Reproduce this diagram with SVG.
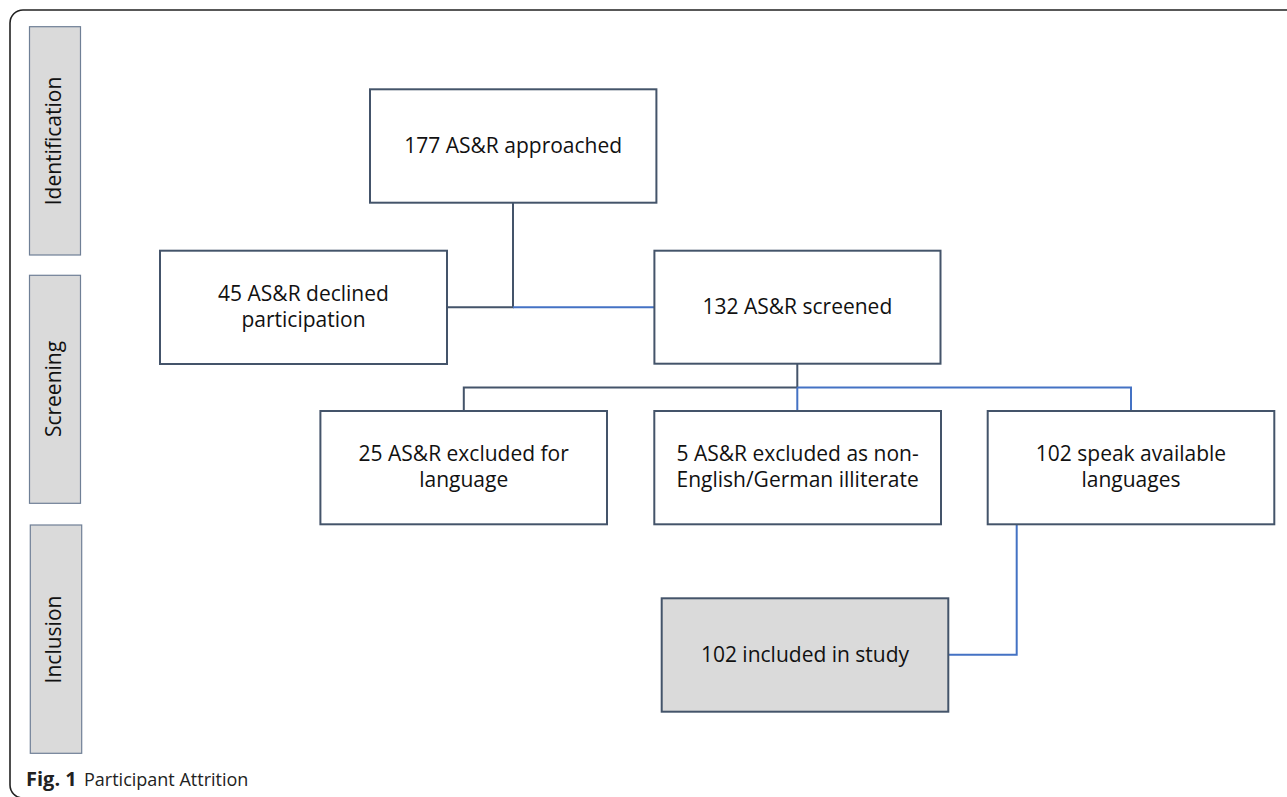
<svg xmlns="http://www.w3.org/2000/svg" width="1287" height="797" viewBox="0 0 1287 797">
<style>
.box{fill:#ffffff;stroke:#44546a;stroke-width:2}
.gbox{fill:#dadada;stroke:#44546a;stroke-width:2}
.bar{fill:#dadada;stroke:#6f7f96;stroke-width:1.2}
.t{font-family:"Open Sans","Noto Sans",sans-serif;font-size:21px;fill:#111;text-anchor:middle}
.dk{fill:none;stroke:#44546a;stroke-width:2}
.bl{fill:none;stroke:#4472c4;stroke-width:2}
.cap{font-family:"Open Sans","Noto Sans",sans-serif;font-size:18px;fill:#222}
</style>
<rect x="10" y="10" width="1300" height="788" rx="13" fill="none" stroke="#222" stroke-width="1.6"/>
<g id="bar-identification"><rect class="bar" x="29.5" y="26.7" width="51" height="228.3"/><text class="t" transform="translate(61,141) rotate(-90)">Identification</text></g>
<g id="bar-screening"><rect class="bar" x="29.5" y="275.3" width="51" height="228"/><text class="t" transform="translate(61,389) rotate(-90)">Screening</text></g>
<g id="bar-inclusion"><rect class="bar" x="30.3" y="525" width="51.4" height="228.3"/><text class="t" transform="translate(61,639.5) rotate(-90)">Inclusion</text></g>
<g id="connectors">
<path class="dk" d="M513 202.7V307.3H447"/>
<path class="bl" d="M513 307.3H654.4"/>
<path class="dk" d="M797.3 363.7V387.5" stroke-width="2.6"/>
<path class="dk" d="M797.3 387.5H463.8V411"/>
<path class="bl" d="M797.3 387.5H1131V411M797.3 387.5V411"/>
<path class="bl" d="M1016.7 524.3V654.7H948.3"/>
</g>
<g id="n177"><rect class="box" x="370" y="89.3" width="286.4" height="113.4"/><text class="t" x="513.2" y="152.7">177 AS&amp;R approached</text></g>
<g id="n45"><rect class="box" x="160" y="250.7" width="287" height="113.3"/><text class="t" x="303.5" y="300.7">45 AS&amp;R declined</text><text class="t" x="303.5" y="327.2">participation</text></g>
<g id="n132"><rect class="box" x="654.4" y="250.7" width="286.1" height="113"/><text class="t" x="797.4" y="314">132 AS&amp;R screened</text></g>
<g id="n25"><rect class="box" x="320.4" y="411" width="286.6" height="113.3"/><text class="t" x="463.7" y="460.7">25 AS&amp;R excluded for</text><text class="t" x="463.7" y="487.3">language</text></g>
<g id="n5"><rect class="box" x="654.3" y="411" width="286.7" height="113.3"/><text class="t" x="797.6" y="460.7">5 AS&amp;R excluded as non-</text><text class="t" x="797.6" y="487.3">English/German illiterate</text></g>
<g id="n102s"><rect class="box" x="987.7" y="411" width="286.6" height="113.3"/><text class="t" x="1131" y="460.7">102 speak available</text><text class="t" x="1131" y="487.3">languages</text></g>
<g id="n102i"><rect class="gbox" x="661.7" y="598.3" width="286.6" height="113.4"/><text class="t" x="805" y="661.7">102 included in study</text></g>
<text class="cap" x="26" y="785.7"><tspan font-weight="bold" font-size="20">Fig. 1</tspan> <tspan x="84">Participant Attrition</tspan></text>
</svg>
